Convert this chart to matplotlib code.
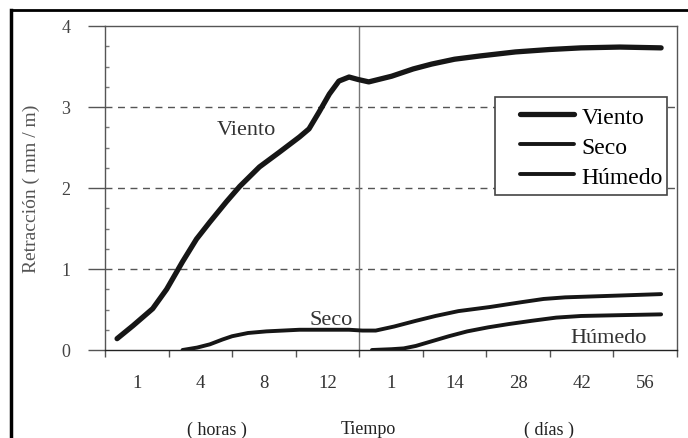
import numpy as np
import matplotlib
matplotlib.use("Agg")
import matplotlib.pyplot as plt
from matplotlib.lines import Line2D
from matplotlib.patches import Rectangle

# Time axis is categorical: 4 hour slots then 5 day slots
tick_labels = ["1", "4", "8", "12", "1", "14", "28", "42", "56"]

# Curves (x in slot units, y in mm/m)
viento_x = [0.19, 0.44, 0.75, 0.97, 1.22, 1.44, 1.65, 1.91, 2.12, 2.43, 2.74, 3.06, 3.21, 3.37,
            3.53, 3.68, 3.84, 3.98, 4.15, 4.51, 4.85, 5.14, 5.50, 5.90, 6.46, 7.00, 7.49, 8.10, 8.75]
viento_y = [0.14, 0.30, 0.51, 0.75, 1.09, 1.37, 1.58, 1.83, 2.02, 2.26, 2.44, 2.63, 2.73, 2.94,
            3.16, 3.32, 3.37, 3.34, 3.31, 3.38, 3.47, 3.53, 3.59, 3.63, 3.68, 3.71, 3.73, 3.74, 3.73]

seco_x = [1.22, 1.45, 1.65, 1.85, 2.00, 2.25, 2.54, 2.80, 3.06, 3.50, 3.84, 4.05, 4.26, 4.55, 4.89,
          5.20, 5.56, 6.05, 6.55, 6.90, 7.24, 8.00, 8.75]
seco_y = [0.00, 0.03, 0.07, 0.13, 0.17, 0.21, 0.23, 0.24, 0.25, 0.25, 0.25, 0.24, 0.24, 0.29, 0.36,
          0.42, 0.48, 0.53, 0.59, 0.63, 0.65, 0.67, 0.69]

humedo_x = [4.20, 4.51, 4.70, 4.89, 5.15, 5.41, 5.70, 6.03, 6.35, 6.71, 7.10, 7.49, 8.10, 8.75]
humedo_y = [0.00, 0.01, 0.02, 0.05, 0.11, 0.17, 0.23, 0.28, 0.32, 0.36, 0.40, 0.42, 0.43, 0.44]

plt.rcParams["font.family"] = ["Liberation Serif", "DejaVu Serif"]

fig = plt.figure(figsize=(6.88, 4.39), dpi=100)
ax = fig.add_axes([105 / 688, 1 - 351 / 439, 572 / 688, 324 / 439])

curve = "#161616"
ax.plot(viento_x, viento_y, color=curve, lw=3.8, solid_capstyle="round", solid_joinstyle="round", label="Viento")
ax.plot(seco_x, seco_y, color=curve, lw=2.8, solid_capstyle="round", solid_joinstyle="round", label="Seco")
ax.plot(humedo_x, humedo_y, color=curve, lw=2.8, solid_capstyle="round", solid_joinstyle="round", label="Húmedo")

# dashed grid and divider between hours and days
for g in [1, 2, 3]:
    ax.axhline(g, color="#555555", lw=1.0, ls=(0, (5, 4)), zorder=0)
ax.axvline(4, color="#777777", lw=1.0, zorder=0)

ax.set_xlim(0, 9)
ax.set_ylim(0, 4)

ax.set_xticks(range(10))
ax.set_xticks(np.arange(9) + 0.5, minor=True)
ax.set_xticklabels([], minor=False)
ax.set_xticklabels(tick_labels, minor=True)
ax.tick_params(axis="x", which="major", direction="out", length=5, width=1, color="#555555")
ax.tick_params(axis="x", which="minor", length=0, pad=17, labelsize=13.5, labelcolor="#333333")

ax.set_yticks([0, 1, 2, 3, 4])
ax.set_yticks(np.arange(0, 4.01, 0.25), minor=True)
ax.tick_params(axis="y", which="major", direction="out", length=12, width=1, color="#555555",
               pad=13, labelsize=13, labelcolor="#444444")
ax.tick_params(axis="y", which="minor", direction="in", length=3, width=1, color="#777777")

for side in ["top", "right", "left", "bottom"]:
    ax.spines[side].set_color("#555555")
    ax.spines[side].set_linewidth(1.0)
ax.spines["bottom"].set_color("#222222")

ax.set_ylabel("Retracción ( mm / m)", fontsize=14, color="#555555", labelpad=15)

# curve names written inside the plot
ax.text(2.23, 2.72, "Viento", fontsize=16, color="#333333", ha="center", va="center")
ax.text(3.56, 0.38, "Seco", fontsize=16, color="#333333", ha="center", va="center")
ax.text(7.92, 0.16, "Húmedo", fontsize=16, color="#333333", ha="center", va="center")

# axis titles under the ticks
fig.text(217 / 688, 1 - 430 / 439, "( horas )", fontsize=13, ha="center", va="center", color="#222222")
fig.text(368 / 688, 1 - 430 / 439, "Tiempo", fontsize=13, ha="center", va="center", color="#222222")
fig.text(549 / 688, 1 - 430 / 439, "( días )", fontsize=13, ha="center", va="center", color="#222222")

# legend box drawn separately so the inner padding can be uneven
ax.add_patch(Rectangle((0.682, 0.478), 0.301, 0.303, transform=ax.transAxes,
                       facecolor="white", edgecolor="#444444", lw=1.2, zorder=4))
leg = ax.legend(loc="upper left", bbox_to_anchor=((520 - 105) / 572, (351 - 107) / 324),
                fontsize=17, frameon=False, handlelength=2.3, handletextpad=0.3,
                labelspacing=0.36, borderpad=0, borderaxespad=0)
leg.set_zorder(5)

# scanned page border (top and left only)
fig.add_artist(Line2D([11 / 688, 1], [1 - 11 / 439, 1 - 11 / 439], color="black", lw=2))
fig.add_artist(Line2D([11 / 688, 11 / 688], [0, 1 - 11 / 439], color="black", lw=2.5))

fig.savefig("out.png", dpi=100)
